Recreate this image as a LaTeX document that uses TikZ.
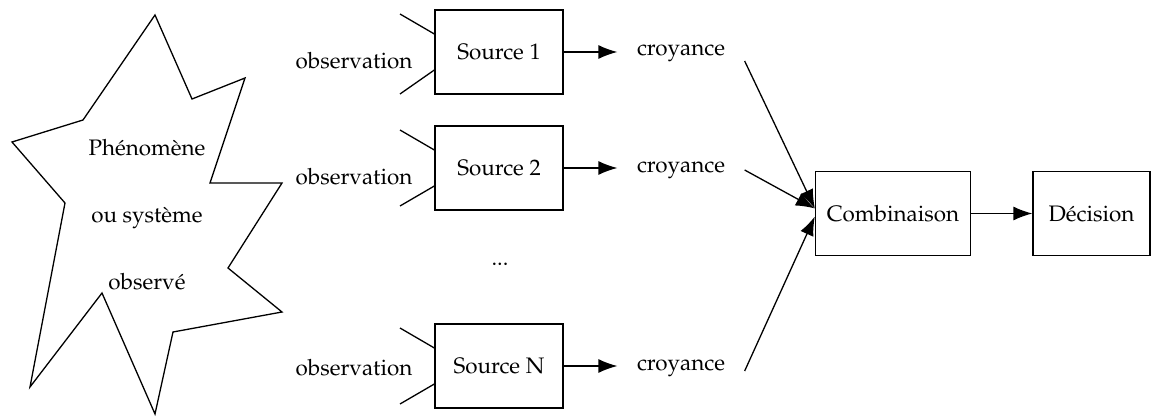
\documentclass[tikz,border=0pt]{standalone}
\usepackage[T1]{fontenc}
\usepackage{mathpazo}
\usetikzlibrary{positioning,arrows.meta}

\tikzset{
    boite/.style={draw, line width=0.65pt, minimum height=42pt, inner sep=0pt},
    etiq/.style={inner xsep=9.5pt, inner ysep=0pt},
    fleche/.style={-{Latex[length=9.5pt,width=7pt]}, line width=0.65pt},
}

\begin{document}
\begin{tikzpicture}[x=0.5pt, y=-0.5pt, line width=0.65pt, every node/.append style={font=\fontsize{11.2}{13.4}\selectfont}]
    \useasboundingbox (0,0) rectangle (1152,417);

    % phénomène observé
    \draw (155,15) -- (192,99) -- (245,78) -- (210,183) -- (282,183) -- (228,268) -- (282,312)
        -- (173,332) -- (155,414) -- (102,293) -- (30,387) -- (65,203) -- (12,142) -- (83,120) -- cycle;
    \node[align=center, font=\fontsize{11.2}{33.5}\selectfont] (phen) at (147,215) {Ph\'enom\`ene\\ou syst\`eme\\observ\'e};

    % sources
    \node[boite, minimum width=64pt] (S1) at (499,52) {Source 1};
    \node[boite, minimum width=64pt] (S2) at (499,168) {Source 2};
    \node (dots) at (500,264) {...};
    \node[boite, minimum width=64pt] (SN) at (499,366) {Source N};

    \node (O1) at (354,61) {observation};
    \node (O2) at (354,177) {observation};
    \node (ON) at (354,368) {observation};

    \coordinate (o1h) at (400,14);
    \coordinate (o1b) at (400,94);
    \coordinate (o2h) at (400,130);
    \coordinate (o2b) at (400,206);
    \coordinate (oNh) at (400,328);
    \coordinate (oNb) at (400,404);

    \draw (o1h) -- ([yshift=9pt]S1.west);
    \draw (o1b) -- ([yshift=-9pt]S1.west);
    \draw (o2h) -- ([yshift=9pt]S2.west);
    \draw (o2b) -- ([yshift=-9pt]S2.west);
    \draw (oNh) -- ([yshift=9pt]SN.west);
    \draw (oNb) -- ([yshift=-9pt]SN.west);

    % croyances
    \node[etiq] (C1) at (681,53) {croyance};
    \node[etiq] (C2) at (681,170) {croyance};
    \node[etiq] (CN) at (681,368) {croyance};

    \draw[fleche] (S1.east) -- (S1.east -| C1.west);
    \draw[fleche] (S2.east) -- (S2.east -| C2.west);
    \draw[fleche] (SN.east) -- (SN.east -| CN.west);

    % combinaison et décision
    \node[boite, minimum width=77.5pt] (comb) at (893,213.5) {Combinaison};
    \node[boite, minimum width=58.5pt] (dec) at (1091.5,213.5) {D\'ecision};

    \draw[fleche] ([yshift=-4pt]C1.east) -- ([yshift=2.5pt]comb.west);
    \draw[fleche] (C2.east) -- ([yshift=2.5pt]comb.west);
    \draw[fleche] ([yshift=-1.5pt]CN.east) -- ([yshift=-1.5pt]comb.west);
    \draw[fleche] (comb) -- (dec);

\end{tikzpicture}
\end{document}
